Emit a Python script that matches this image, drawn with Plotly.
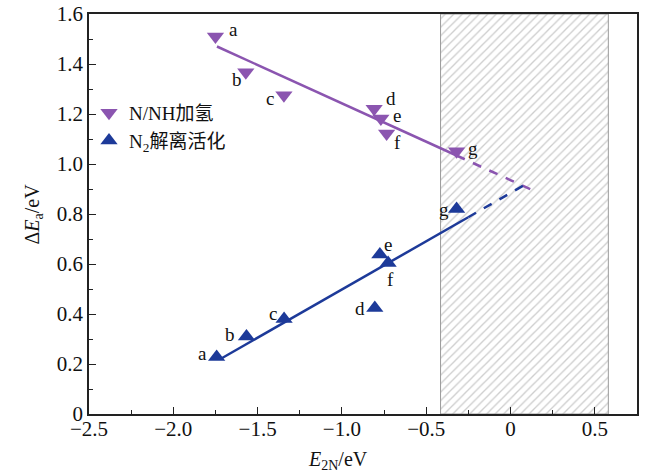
import plotly.graph_objects as go

# ---- data ----
labels = ["a", "b", "c", "d", "e", "f", "g"]
nh_x = [-1.75, -1.57, -1.344, -0.809, -0.769, -0.735, -0.32]
nh_y = [1.51, 1.367, 1.275, 1.221, 1.182, 1.122, 1.051]
n2_x = [-1.743, -1.566, -1.343, -0.805, -0.775, -0.726, -0.32]
n2_y = [0.228, 0.31, 0.38, 0.424, 0.638, 0.604, 0.82]

nh_fit_solid_x = [-1.741, -0.32]
nh_fit_solid_y = [1.47, 1.034]
nh_fit_dash_x = [-0.32, 0.13]
nh_fit_dash_y = [1.034, 0.895]

n2_fit_solid_x = [-1.718, -0.251]
n2_fit_solid_y = [0.221, 0.787]
n2_fit_dash_x = [-0.251, 0.105]
n2_fit_dash_y = [0.787, 0.925]

region_x = [-0.415, 0.58]
region_y = [0.0, 1.6]

x_tickvals = [-2.5, -2.0, -1.5, -1.0, -0.5, 0, 0.5]
x_ticktext = ["−2.5", "−2.0", "−1.5", "−1.0", "−0.5", "0", "0.5"]
y_tickvals = [0, 0.2, 0.4, 0.6, 0.8, 1.0, 1.2, 1.4, 1.6]
y_ticktext = ["0", "0.2", "0.4", "0.6", "0.8", "1.0", "1.2", "1.4", "1.6"]

# label offsets (px) relative to points: styling only
nh_dx = [18, -9, -14, 17, 16, 11, 16]
nh_dy = [7, -7, -3, 10, 3, -9, 3]
n2_dx = [-14, -16, -11, -15, 8, 2, -13]
n2_dy = [4, 2, 6, 0, 10, -16, 0]

PURPLE = "#8b55b0"
BLUE = "#1d3a99"
FONT = "Liberation Serif, Noto Sans CJK SC, serif"
TXT = "#111111"

fig = go.Figure()

# hatched region
fig.add_trace(go.Scatter(
    x=[region_x[0], region_x[1], region_x[1], region_x[0], region_x[0]],
    y=[region_y[0], region_y[0], region_y[1], region_y[1], region_y[0]],
    mode="lines", fill="toself", line=dict(color="#9a9a9a", width=1),
    fillcolor="white",
    fillpattern=dict(shape="/", fgcolor="#9c9c9c", bgcolor="white",
                     size=6, solidity=0.22),
    showlegend=False, hoverinfo="skip"))

# fit lines
fig.add_trace(go.Scatter(x=nh_fit_solid_x, y=nh_fit_solid_y, mode="lines",
                         line=dict(color=PURPLE, width=2.5), showlegend=False))
fig.add_trace(go.Scatter(x=nh_fit_dash_x, y=nh_fit_dash_y, mode="lines",
                         line=dict(color=PURPLE, width=2.5, dash="dash"), showlegend=False))
fig.add_trace(go.Scatter(x=n2_fit_solid_x, y=n2_fit_solid_y, mode="lines",
                         line=dict(color=BLUE, width=2.5), showlegend=False))
fig.add_trace(go.Scatter(x=n2_fit_dash_x, y=n2_fit_dash_y, mode="lines",
                         line=dict(color=BLUE, width=2.5, dash="dash"), showlegend=False))

# points
fig.add_trace(go.Scatter(
    x=nh_x, y=nh_y, mode="markers",
    marker=dict(symbol="triangle-down", size=15, color=PURPLE),
    name="N/NH加氢"))
fig.add_trace(go.Scatter(
    x=n2_x, y=n2_y, mode="markers",
    marker=dict(symbol="triangle-up", size=15, color=BLUE),
    name="N<sub>2</sub>解离活化"))

annotations = []
for xs, ys, dxs, dys in [(nh_x, nh_y, nh_dx, nh_dy), (n2_x, n2_y, n2_dx, n2_dy)]:
    for lab, x, y, dx, dy in zip(labels, xs, ys, dxs, dys):
        annotations.append(dict(x=x, y=y, xref="x", yref="y", text=lab,
                                showarrow=False, xshift=dx, yshift=dy,
                                font=dict(family=FONT, size=19, color=TXT)))

# axis titles
annotations.append(dict(x=0.455, y=-0.115, xref="paper", yref="paper",
                        xanchor="center", yanchor="middle",
                        text="<i>E</i><sub>2N</sub>/eV", showarrow=False,
                        font=dict(family=FONT, size=20, color=TXT)))
annotations.append(dict(x=-0.102, y=0.499, xref="paper", yref="paper",
                        xanchor="center", yanchor="middle",
                        text="Δ<i>E</i><sub>a</sub>/eV", showarrow=False, textangle=-90,
                        font=dict(family=FONT, size=20, color=TXT)))

axis_common = dict(
    showline=True, linecolor="#222", linewidth=1.5, mirror=True,
    ticks="inside", ticklen=7, tickwidth=1.2, tickcolor="#222",
    showgrid=False, zeroline=False, automargin=False,
    tickfont=dict(family=FONT, size=21, color=TXT),
)

fig.update_xaxes(range=[-2.5, 0.75],
                 minor=dict(ticks="inside", ticklen=4, dtick=0.25, tickcolor="#222"),
                 tickvals=x_tickvals, ticktext=x_ticktext, ticklabelstandoff=-5,
                 **axis_common)
fig.update_yaxes(range=[0, 1.6],
                 minor=dict(ticks="inside", ticklen=4, dtick=0.1, tickcolor="#222"),
                 tickvals=y_tickvals, ticktext=y_ticktext,
                 **axis_common)

fig.update_layout(
    width=651, height=476,
    margin=dict(l=89, r=14, t=14, b=62),
    plot_bgcolor="white", paper_bgcolor="white",
    font=dict(family=FONT, color=TXT),
    annotations=annotations,
    legend=dict(x=0.0, y=0.80, xanchor="left", yanchor="top",
                bgcolor="rgba(0,0,0,0)", font=dict(family=FONT, size=19),
                itemwidth=30, tracegroupgap=0),
)

fig.write_html("out.html", config={"displayModeBar": False},
               post_script="document.body.style.margin='0px';document.body.style.overflow='hidden';")
